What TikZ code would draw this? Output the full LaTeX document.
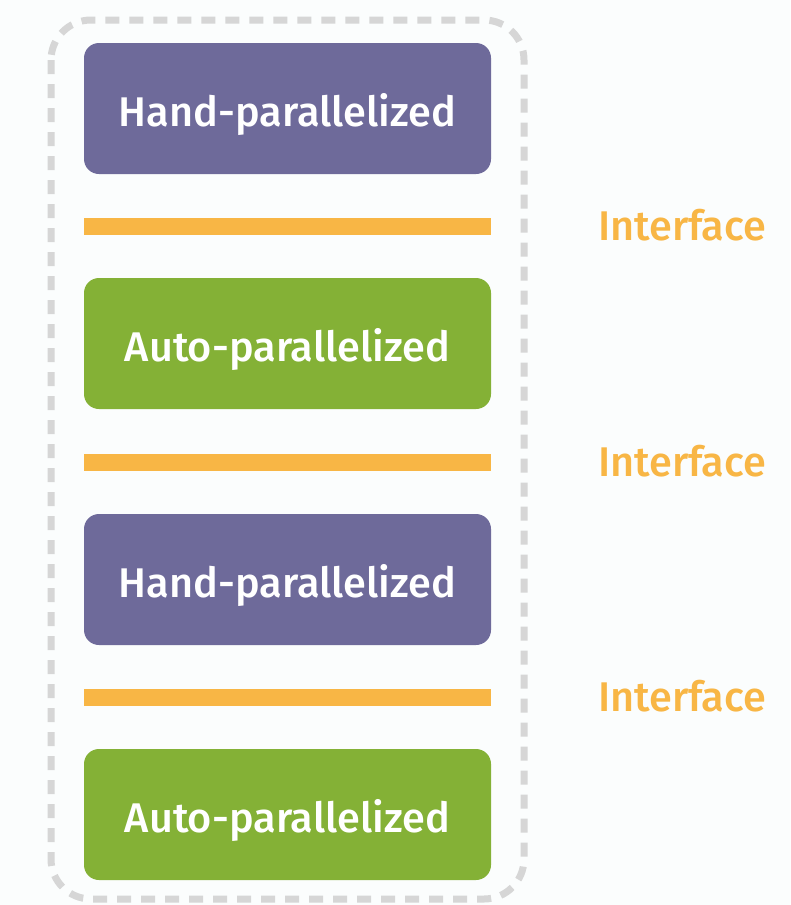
\documentclass[tikz,border=0pt]{standalone}
\usepackage{fontspec}
\setmainfont{Fira Sans}[UprightFont=* Medium]
\definecolor{bgc}{HTML}{FBFDFD}
\definecolor{handc}{HTML}{6E6A9A}
\definecolor{autoc}{HTML}{84B136}
\definecolor{ifc}{HTML}{F8B645}
\definecolor{dashc}{HTML}{D6D6D6}
\tikzset{
  layerbox/.style={rounded corners=15pt, minimum width=407pt, minimum height=131pt, inner sep=0pt, text=white, font=\fontsize{41.5}{46}\selectfont, text height=36pt, text depth=1pt},
  handbox/.style={layerbox, fill=handc},
  autobox/.style={layerbox, fill=autoc},
  ifbar/.style={fill=ifc, draw=none, minimum width=407pt, minimum height=17pt, inner sep=0pt},
  iflabel/.style={text=ifc, font=\fontsize{41.5}{46}\selectfont, inner sep=0pt, anchor=west, text height=29pt, text depth=0pt},
}
\begin{document}
\begin{tikzpicture}[x=1pt,y=-1pt]
\fill[bgc] (0,0) rectangle (790,905);
\useasboundingbox (0,0) rectangle (790,905);
\draw[dashc, line width=7pt, dash pattern=on 14pt off 10pt, rounded corners=40pt] (51,20) rectangle (524,899);
\node[handbox] (h1) at (287.5,108.5) {Hand-parallelized};
\node[ifbar] (b1) at (287.5,226) {};
\node[iflabel] (i1) at (598,226) {Interface};
\node[autobox] (a1) at (287.5,343.5) {Auto-parallelized};
\node[ifbar] (b2) at (287.5,462) {};
\node[iflabel] (i2) at (598,462) {Interface};
\node[handbox] (h2) at (287.5,579.5) {Hand-parallelized};
\node[ifbar] (b3) at (287.5,697) {};
\node[iflabel] (i3) at (598,697) {Interface};
\node[autobox] (a2) at (287.5,814.5) {Auto-parallelized};
\end{tikzpicture}
\end{document}
